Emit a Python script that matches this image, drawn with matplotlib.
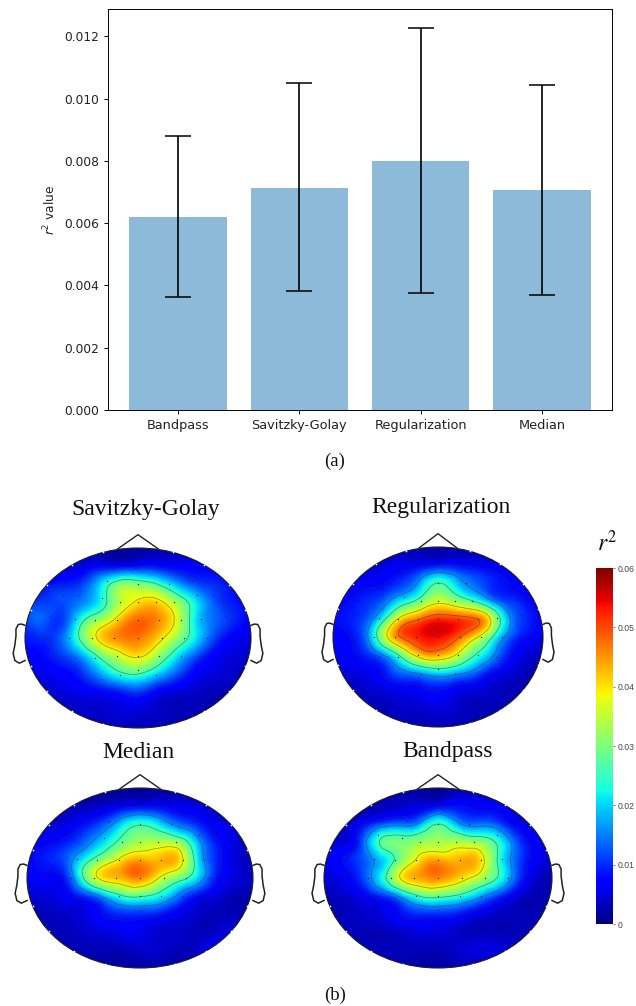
import numpy as np
import matplotlib
matplotlib.use("Agg")
import matplotlib.pyplot as plt
from matplotlib.patches import Ellipse
from matplotlib.tri import Triangulation, UniformTriRefiner
from matplotlib.cm import ScalarMappable
from matplotlib.colors import Normalize

# ---------- bar data ----------
methods = ["Bandpass", "Savitzky-Golay", "Regularization", "Median"]
r2_mean = [0.00620, 0.00713, 0.00800, 0.00707]
r2_low = [0.00363, 0.00382, 0.00375, 0.00368]
r2_high = [0.00880, 0.01049, 0.01228, 0.01043]
yticks = [0.000, 0.002, 0.004, 0.006, 0.008, 0.010, 0.012]

# ---------- topographic maps (r^2 x 1000, rows front to back, cols left to right) ----------
grid_u = [-1, -.833, -.667, -.5, -.333, -.167, 0, .167, .333, .5, .667, .833, 1]
grid_v = [1, .8, .6, .4, .2, 0, -.2, -.4, -.6, -.8, -1]

savgol_map = [
    [3, 3, 3, 3, 3, 3, 3, 3, 3, 3, 3, 3, 3],
    [4, 4, 4, 5, 7, 7, 8, 8, 7, 7, 7, 6, 5],
    [7, 8, 9, 11, 20, 30, 30, 26, 18, 12, 10, 8, 6],
    [11, 11, 12, 15, 22, 34, 40, 41, 33, 22, 13, 9, 7],
    [11, 13, 11, 24, 33, 42, 48, 46, 38, 22, 14, 10, 7],
    [9, 10, 14, 28, 41, 46, 47, 42, 33, 22, 12, 7, 5],
    [7, 8, 11, 17, 28, 36, 40, 33, 22, 13, 7, 5, 4],
    [5, 6, 7, 10, 17, 24, 26, 20, 13, 7, 5, 4, 3],
    [3, 4, 5, 6, 7, 9, 11, 7, 5, 4, 3, 3, 3],
    [3, 3, 3, 4, 4, 5, 5, 4, 3, 3, 3, 3, 3],
    [3, 3, 3, 3, 3, 3, 3, 3, 3, 3, 3, 3, 3],
]
regular_map = [
    [3, 3, 3, 3, 3, 3, 3, 3, 3, 3, 3, 3, 3],
    [4, 4, 4, 5, 6, 7, 8, 8, 7, 6, 5, 4, 4],
    [5, 6, 7, 8, 11, 18, 26, 20, 14, 10, 8, 6, 5],
    [7, 8, 10, 14, 22, 29, 36, 32, 26, 17, 11, 8, 6],
    [8, 9, 13, 26, 42, 48, 52, 51, 49, 38, 18, 10, 7],
    [7, 8, 16, 36, 49, 53, 54, 50, 41, 28, 14, 8, 5],
    [6, 7, 10, 17, 30, 42, 44, 38, 27, 18, 9, 5, 3],
    [4, 5, 6, 9, 14, 17, 20, 18, 14, 8, 5, 3, 3],
    [3, 3, 4, 5, 6, 7, 8, 6, 5, 4, 3, 3, 3],
    [3, 3, 3, 3, 4, 4, 5, 4, 3, 3, 3, 3, 3],
    [3, 3, 3, 3, 3, 3, 3, 3, 3, 3, 3, 3, 3],
]
median_map = [
    [2, 2, 2, 2, 2, 2, 2, 2, 2, 2, 2, 2, 2],
    [2, 2, 3, 3, 4, 6, 7, 7, 6, 5, 4, 3, 3],
    [3, 4, 5, 8, 12, 20, 25, 21, 14, 10, 6, 5, 3],
    [6, 7, 9, 13, 20, 28, 33, 34, 32, 19, 9, 5, 3],
    [7, 9, 12, 22, 32, 40, 44, 43, 42, 23, 10, 5, 3],
    [6, 7, 9, 26, 40, 43, 46, 38, 30, 21, 9, 5, 3],
    [4, 5, 6, 10, 17, 25, 27, 23, 15, 8, 5, 3, 3],
    [2, 3, 4, 5, 8, 10, 10, 9, 6, 4, 3, 3, 2],
    [2, 3, 3, 4, 5, 6, 6, 4, 4, 3, 4, 5, 3],
    [2, 2, 3, 3, 3, 3, 4, 4, 3, 4, 6, 4, 2],
    [2, 2, 2, 2, 2, 2, 2, 2, 2, 2, 2, 2, 2],
]
bandpass_map = [
    [2, 2, 2, 2, 2, 2, 2, 2, 2, 2, 2, 2, 2],
    [2, 2, 2, 3, 4, 5, 7, 8, 7, 7, 6, 4, 3],
    [2, 3, 7, 12, 14, 17, 26, 18, 14, 13, 7, 5, 3],
    [3, 5, 12, 27, 30, 32, 33, 34, 32, 26, 14, 7, 3],
    [5, 8, 12, 19, 30, 40, 44, 43, 43, 28, 14, 7, 4],
    [5, 6, 11, 22, 38, 44, 46, 42, 36, 27, 14, 5, 3],
    [3, 4, 6, 10, 17, 26, 28, 25, 19, 12, 6, 3, 3],
    [2, 3, 4, 5, 8, 10, 10, 9, 6, 4, 3, 3, 2],
    [2, 3, 3, 3, 4, 5, 5, 4, 3, 3, 3, 3, 2],
    [2, 2, 3, 3, 3, 3, 3, 4, 5, 5, 4, 2, 2],
    [2, 2, 2, 2, 2, 2, 2, 2, 2, 2, 2, 2, 2],
]
savgol_levels = [10, 26, 39]
regular_levels = [8, 16, 26, 38, 48]
median_levels = [8, 16, 26, 38]
bandpass_levels = [8, 16, 26, 38]

elec_u = [0, -.27, 0, .27, .48, -.66, -.53, -.32, .52, .66,
          -.16, 0, .16, .32, -.78, -.56, -.38, -.19, 0, .19, .38, .56, .78,
          -.82, -.61, -.41, -.21, 0, .21, .41, .61, .82,
          -.78, -.56, -.38, -.19, 0, .19, .38, .56, .78,
          -.50, -.32, -.16, 0, .16, 0, 0]
elec_v = [.81, .63, .6, .6, .63, .48, .48, .45, .48, .48,
          .40, .40, .40, .40, .25, .21, .20, .20, .20, .20, .20, .21, .25,
          0, 0, 0, 0, 0, 0, 0, 0, 0,
          -.22, -.22, -.22, -.20, -.20, -.20, -.20, -.22, -.22,
          -.48, -.45, -.41, -.36, -.41, -.61, -.81]
rim_angle = [18, 36, 54, 72, 108, 126, 144, 162, 198, 216, 234, 252, 288, 306, 324, 342]

ear_u = [1.0, 1.03, 1.06, 1.08, 1.08, 1.09, 1.105, 1.09, 1.05, 1.0]
ear_v = [.14, .155, .15, .10, .02, -.08, -.17, -.25, -.28, -.25]
nose_u = [-.18, 0, .18]
nose_v = [.99, 1.148, .99]

W, H = 636, 1006
fig = plt.figure(figsize=(W / 100, H / 100), dpi=100, facecolor="white")


def px_axes(left, top, right, bottom):
    return fig.add_axes([left / W, 1 - bottom / H, (right - left) / W, (bottom - top) / H])


# ---------- panel (a) ----------
ax = px_axes(108, 9, 612, 410)
x = np.arange(len(methods))
mean = np.array(r2_mean)
err = np.array([mean - np.array(r2_low), np.array(r2_high) - mean])
ax.bar(x, mean, width=0.8, color="tab:blue", alpha=0.5)
ax.errorbar(x, mean, yerr=err, fmt="none", ecolor="black", elinewidth=1.2,
            capsize=9.4, capthick=1.1)
ax.set_xlim(-0.577, 3.577)
ax.set_ylim(0, 0.01288)
ax.set_xticks(x, methods, fontsize=9.3, color="#222222")
ax.set_yticks(yticks, [f"{t:.3f}" for t in yticks], fontsize=8.8, color="#222222")
ax.set_ylabel(r"$r^2$ value", fontsize=8.8, color="#222222", labelpad=4)
ax.tick_params(length=3, width=0.7)
for s in ax.spines.values():
    s.set_linewidth(0.7)

serif = "Liberation Serif"
fig.text(335 / W, 1 - 461 / H, "(a)", family=serif, fontsize=13.5, ha="center", va="center", color="#111111")
fig.text(335 / W, 1 - 995 / H, "(b)", family=serif, fontsize=13.5, ha="center", va="center", color="#111111")

# ---------- panel (b) ----------
norm = Normalize(0, 60)
cmap = plt.get_cmap("jet")


def topo(name, values, levels, cx, cy, a, b, title_x, title_y):
    ax = px_axes(cx - 1.2 * a, cy - 1.3 * b, cx + 1.2 * a, cy + 1.1 * b)
    ax.set_xlim(-1.2, 1.2)
    ax.set_ylim(-1.1, 1.3)
    ax.axis("off")
    uu, vv = np.meshgrid(grid_u, grid_v)
    tri = Triangulation(uu.ravel(), vv.ravel())
    refiner = UniformTriRefiner(tri)
    fine, field = refiner.refine_field(np.array(values, float).ravel(), subdiv=3)
    clip = Ellipse((0, 0), 2, 2, transform=ax.transData)
    pc = ax.tripcolor(fine, field, shading="gouraud", cmap=cmap, norm=norm)
    pc.set_clip_path(clip)
    cs = ax.tricontour(fine, field, levels=levels, colors="#2a3a2a", linewidths=0.5, alpha=0.55)
    cs.set_clip_path(clip)
    ax.add_patch(Ellipse((0, 0), 2, 2, fill=False, ec="#222222", lw=0.8))
    ax.plot(nose_u, nose_v, color="#222222", lw=1.0, clip_on=False)
    ax.plot(ear_u, ear_v, color="#222222", lw=1.1, clip_on=False)
    ax.plot(-np.array(ear_u), ear_v, color="#222222", lw=1.1, clip_on=False)
    ax.scatter(elec_u, elec_v, s=0.9, color="#222222", linewidths=0)
    th = np.radians(rim_angle)
    ax.scatter(np.cos(th), np.sin(th), s=1.5, color="white", linewidths=0, zorder=5)
    fig.text(title_x / W, 1 - title_y / H, name, family=serif, fontsize=17,
             ha="center", va="center", color="#111111")


topo("Savitzky-Golay", savgol_map, savgol_levels, 138, 638, 113, 90, 146, 510)
topo("Regularization", regular_map, regular_levels, 438, 637, 105, 90, 441, 508)
topo("Median", median_map, median_levels, 140, 878, 113, 90, 138, 753)
topo("Bandpass", bandpass_map, bandpass_levels, 438, 878, 114, 90, 448, 752)

cax = px_axes(596, 568, 613, 924)
cb = fig.colorbar(ScalarMappable(norm=Normalize(0, 0.06), cmap=cmap), cax=cax)
cb.set_ticks([0, .01, .02, .03, .04, .05, .06], labels=["0", "0.01", "0.02", "0.03", "0.04", "0.05", "0.06"])
cb.ax.tick_params(labelsize=6.2, length=1.5, width=0.5, pad=1.5, labelcolor="#444444", color="#444444")
cb.outline.set_visible(False)
for lab in cb.ax.get_yticklabels():
    lab.set_family("Liberation Sans")
fig.text(607 / W, 1 - 543 / H, r"$r^2$", fontsize=17, math_fontfamily="stix", ha="center", va="center", color="#111111")

fig.savefig("out.png", dpi=100)
